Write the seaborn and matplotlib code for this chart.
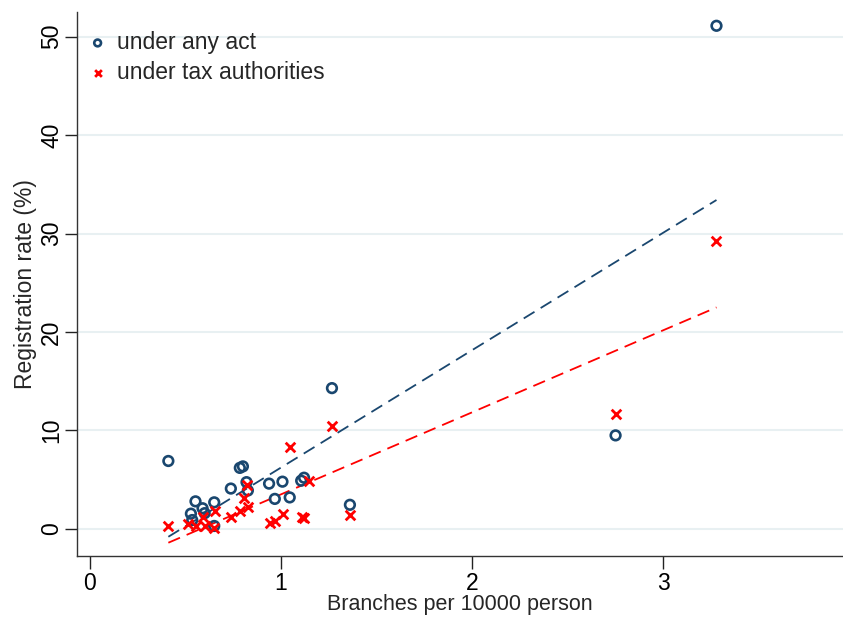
import matplotlib
matplotlib.use("Agg")
import matplotlib.pyplot as plt
import seaborn as sns
import pandas as pd
import numpy as np

# under any act (circles)
act_x = [0.41, 0.528, 0.535, 0.552, 0.589, 0.60, 0.65, 0.65, 0.737, 0.784, 0.80, 0.819,
         0.826, 0.937, 0.967, 1.007, 1.045, 1.105, 1.12, 1.266, 1.36, 2.75, 3.278]
act_y = [6.9, 1.55, 0.9, 2.8, 2.1, 1.6, 2.7, 0.3, 4.1, 6.2, 6.35, 4.75,
         3.9, 4.6, 3.05, 4.8, 3.2, 4.9, 5.2, 14.3, 2.45, 9.5, 51.1]
# under tax authorities (crosses)
tax_x = [0.41, 0.514, 0.557, 0.592, 0.60, 0.653, 0.65, 0.737, 0.784, 0.805, 0.819, 0.828,
         0.941, 0.967, 1.01, 1.045, 1.11, 1.12, 1.147, 1.266, 1.36, 2.75, 3.278]
tax_y = [0.3, 0.55, 0.3, 1.25, 0.25, 1.86, 0.07, 1.2, 1.8, 3.1, 4.5, 2.25,
         0.58, 0.8, 1.5, 8.3, 1.25, 1.15, 4.85, 10.5, 1.45, 11.7, 29.2]

x_ticks = [0, 1, 2, 3]
y_ticks = [0, 10, 20, 30, 40, 50]

navy = "#1a476f"
red = "#ff0000"

sns.set_style("white")
plt.rcParams['font.family'] = ['Liberation Sans', 'DejaVu Sans']

fs = 16.5
fig = plt.figure(figsize=(8.43, 6.18), dpi=100)
ax = fig.add_axes([77/843, 62/618, (843-77)/843, (556-12)/618])

df_act = pd.DataFrame({"x": act_x, "y": act_y})
df_tax = pd.DataFrame({"x": tax_x, "y": tax_y})

for yv in y_ticks:
    ax.axhline(yv, color="#e8f0f2", lw=1.5, zorder=0)

sns.regplot(data=df_act, x="x", y="y", ax=ax, scatter=False, ci=None,
            line_kws=dict(color=navy, lw=1.3, dashes=(7, 4)))
sns.regplot(data=df_tax, x="x", y="y", ax=ax, scatter=False, ci=None,
            line_kws=dict(color=red, lw=1.3, dashes=(7, 4)))

sns.scatterplot(data=df_act, x="x", y="y", ax=ax, marker="o", s=48,
                facecolor="none", edgecolor=navy, linewidth=1.9,
                label="under any act", zorder=3)
sns.scatterplot(data=df_tax, x="x", y="y", ax=ax, marker="x", s=48,
                color=red, linewidth=2.0, label="under tax authorities", zorder=3)

ax.set_xlim(-0.068, 3.94)
ax.set_ylim(-2.75, 52.5)
ax.set_xticks(x_ticks)
ax.set_yticks(y_ticks)
ax.tick_params(axis="both", direction="out", length=9, width=1, colors="#222222",
               labelsize=fs, labelcolor="black", bottom=True, left=True)
ax.tick_params(axis="x", pad=2.5)
ax.tick_params(axis="y", pad=1)
for lab in ax.get_yticklabels():
    lab.set_rotation(90)
    lab.set_va("center")
ax.set_xlabel("Branches per 10000 person", fontsize=15.5, labelpad=-1)
ax.set_ylabel("Registration rate (%)", fontsize=fs, labelpad=2)

for s in ["top", "right"]:
    ax.spines[s].set_visible(False)
for s in ["left", "bottom"]:
    ax.spines[s].set_color("#333333")
    ax.spines[s].set_linewidth(1.0)

leg = ax.legend(loc="upper left", frameon=False, fontsize=fs, handletextpad=0.33,
                handlelength=1.0, borderaxespad=0.0, markerscale=0.7, labelspacing=0.3,
                bbox_to_anchor=(0.0, 0.982))

fig.savefig("out.png", dpi=100)
